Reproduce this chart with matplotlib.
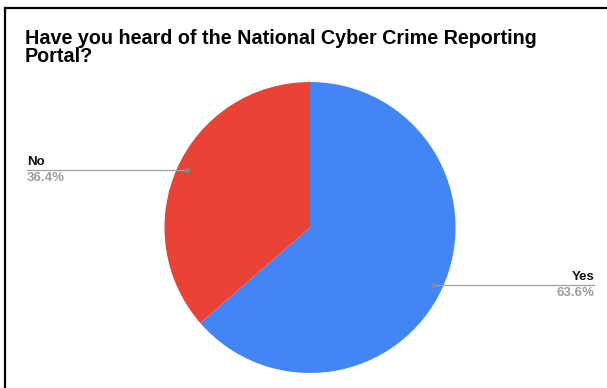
import matplotlib
matplotlib.use('Agg')
from matplotlib import pyplot as plt
from matplotlib.lines import Line2D

labels = ['Yes', 'No']
values = [63.6, 36.4]
colors = ['#4285f4', '#ea4335']
title_lines = ['Have you heard of the National Cyber Crime Reporting', 'Portal?']

W, H = 607, 388
plt.rcParams['font.family'] = ['Liberation Sans', 'DejaVu Sans']

fig = plt.figure(figsize=(W / 100, H / 100), dpi=100)


def fx(px):
    return px / W


def fy(py):
    return 1 - py / H


# pie placed by pixel center / radius
cx, cy, r = 310, 227.5, 145.5
ax = fig.add_axes([fx(cx - r), fy(cy + r), 2 * r / W, 2 * r / H])
ax.pie(values, colors=colors, startangle=90, counterclock=False, radius=1)
ax.set_xlim(-1, 1)
ax.set_ylim(-1, 1)
ax.set_aspect('auto')
ax.axis('off')

# frame lines (left and top)
fig.add_artist(Line2D([fx(5), fx(5)], [fy(8), 0], color='black', lw=1.6))
fig.add_artist(Line2D([fx(5), 1], [fy(8), fy(8)], color='black', lw=1.6))

# title, one baseline per line
for i, line in enumerate(title_lines):
    fig.text(fx(25), fy(44 + 18 * i), line, fontsize=14.2, fontweight='bold',
             va='baseline', ha='left', color='#000000')

# leader lines with labels
legs = [
    ('No', '36.4%', 27, 187, 170, 'left'),
    ('Yes', '63.6%', 433, 594, 285, 'right'),
]
for name, pct, x0, x1, y, side in legs:
    fig.add_artist(Line2D([fx(x0), fx(x1)], [fy(y), fy(y)], color='#a0a0a0', lw=0.9))
    dot_x = x1 if side == 'left' else x0
    fig.add_artist(Line2D([fx(dot_x)], [fy(y)], marker='o', ms=2.5, color='#8a8a8a'))
    tx = x0 if side == 'left' else x1
    fig.text(fx(tx), fy(y - 2), name, fontsize=9.5, fontweight='bold', ha=side,
             va='bottom', color='#111111')
    fig.text(fx(tx), fy(y + 2), pct, fontsize=9.5, fontweight='bold', ha=side,
             va='top', color='#9e9e9e')

plt.savefig('out.png', dpi=100)
